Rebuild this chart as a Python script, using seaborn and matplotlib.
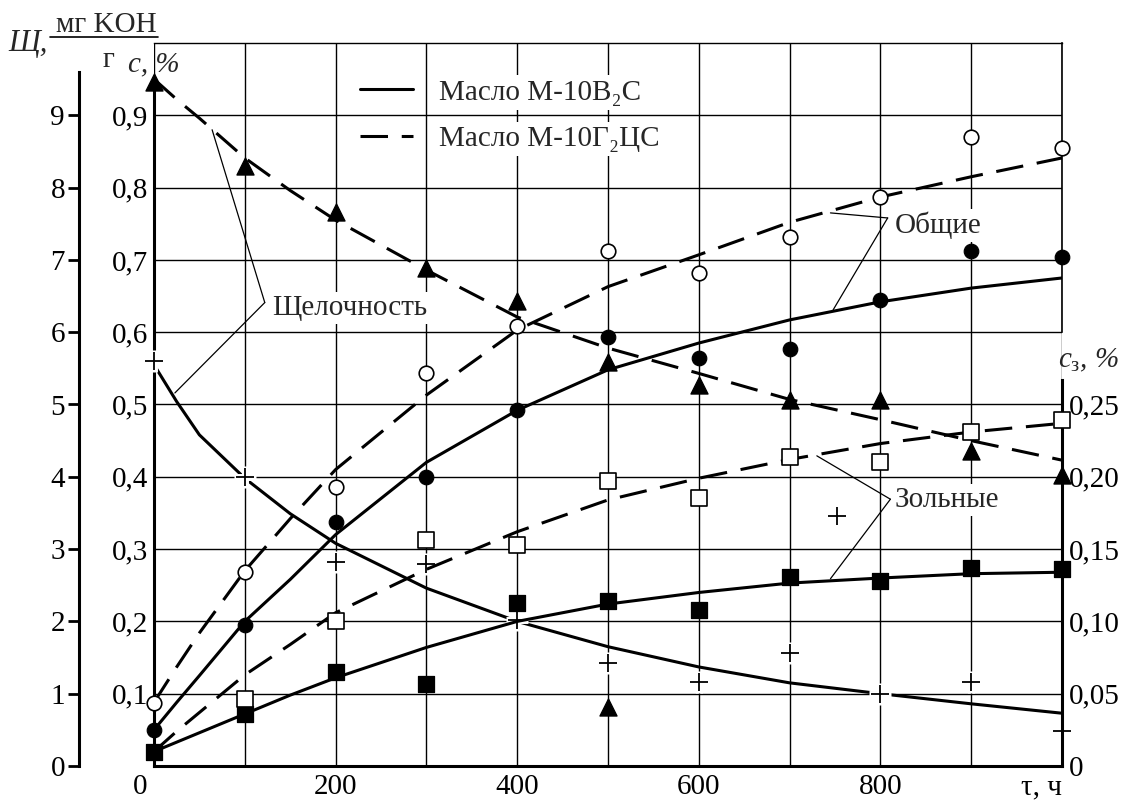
import numpy as np
import pandas as pd
import matplotlib
matplotlib.use('Agg')
import matplotlib.pyplot as plt
import matplotlib.transforms as mtransforms
from matplotlib.lines import Line2D
import seaborn as sns

# time, h
tau = [0, 100, 200, 300, 400, 500, 600, 700, 800, 900, 1000]

# alkalinity, mg KOH/g
alk_v2s = [5.6, 4.0, 2.82, 2.8, 2.02, 1.42, 1.16, 1.56, 1.0, 1.16, 0.48]
alk_g2cs = [9.46, 8.3, 7.66, 6.89, 6.43, 5.59, 5.27, 5.06, 5.06, 4.35, 4.02]
stray_plus_tau, stray_plus_val = [752], [3.46]
stray_tri_tau, stray_tri_val = [500], [0.82]

# total contaminants c, %
tot_v2s = [0.050, 0.195, 0.338, 0.40, 0.492, 0.593, 0.564, 0.577, 0.644, 0.712, 0.704]
tot_g2cs = [0.087, 0.268, 0.386, 0.544, 0.609, 0.712, 0.682, 0.732, 0.787, 0.870, 0.855]

# ash contaminants c_z, %
ash_v2s = [0.010, 0.036, 0.065, 0.057, 0.113, 0.114, 0.108, 0.131, 0.128, 0.137, 0.136]
ash_g2cs_tau = [100, 200, 300, 400, 500, 600, 700, 800, 900, 1000]
ash_g2cs = [0.046, 0.100, 0.156, 0.153, 0.197, 0.185, 0.214, 0.210, 0.231, 0.239]

# smoothed curves
tau_fit = [0, 25, 50, 100, 150, 200, 300, 400, 500, 600, 700, 800, 900, 1000]
alk_v2s_fit = [5.55, 5.04, 4.58, 3.98, 3.49, 3.08, 2.46, 2.0, 1.65, 1.37, 1.15, 1.0, 0.86, 0.73]
alk_g2cs_fit = [9.5, 9.22, 8.96, 8.41, 7.96, 7.55, 6.86, 6.21, 5.78, 5.43, 5.07, 4.79, 4.5, 4.23]
tot_v2s_fit = [0.05, 0.088, 0.125, 0.20, 0.258, 0.32, 0.42, 0.492, 0.548, 0.585, 0.617, 0.642, 0.661, 0.675]
tot_g2cs_fit = [0.088, 0.137, 0.184, 0.27, 0.342, 0.41, 0.513, 0.603, 0.663, 0.707, 0.752, 0.787, 0.815, 0.841]
ash_v2s_fit = [0.010, 0.0165, 0.023, 0.036, 0.049, 0.061, 0.082, 0.100, 0.112, 0.120, 0.1265, 0.130, 0.133, 0.134]
ash_g2cs_fit = [0.010, 0.024, 0.037, 0.063, 0.084, 0.106, 0.136, 0.162, 0.184, 0.199, 0.212, 0.223, 0.231, 0.237]

c_ticks = [0.1, 0.2, 0.3, 0.4, 0.5, 0.6, 0.7, 0.8, 0.9]
alk_ticks = [0, 1, 2, 3, 4, 5, 6, 7, 8, 9]
ash_ticks = [0, 0.05, 0.10, 0.15, 0.20, 0.25]
x_ticks = [0, 200, 400, 600, 800, 1000]
x_labels = ['0', '200', '400', '600', '800', 'τ, ч']

sns.set_theme(style='white')
plt.rcParams['font.family'] = ['Liberation Serif', 'DejaVu Serif']
plt.rcParams['mathtext.fontset'] = 'custom'
plt.rcParams['mathtext.rm'] = 'Liberation Serif'
plt.rcParams['mathtext.it'] = 'Liberation Serif:italic'
FS = 21
LW = 2.2
DASH = (0, (9, 4.5))

W, H = 1131, 805
fig = plt.figure(figsize=(W / 100, H / 100), dpi=100)
ax = fig.add_axes([154 / W, 1 - 766 / H, 908 / W, 723 / H])
ax.patch.set_alpha(0)
ax.set_xlim(0, 1000)
ax.set_ylim(0, 1.0)

# grid
ax.set_xticks(x_ticks)
ax.set_xticks(range(100, 1000, 100), minor=True)
ax.set_yticks(c_ticks)
ax.set_yticklabels([f'{v:.1f}'.replace('.', ',') for v in c_ticks], fontsize=FS)
ax.set_xticklabels(x_labels, fontsize=FS)
ax.grid(which='both', color='black', lw=1.0, zorder=0)
ax.tick_params(axis='both', which='both', length=0, colors='black')
ax.tick_params(axis='y', pad=4)
ax.tick_params(axis='x', pad=6)
xl = ax.get_xticklabels()
xl[0].set_horizontalalignment('right')
xl[0].set_transform(xl[0].get_transform() + mtransforms.ScaledTranslation(-5 / 72, 0, fig.dpi_scale_trans))
xl[-1].set_horizontalalignment('right')

for s in ax.spines.values():
    s.set_color('black')
ax.spines['left'].set_linewidth(LW)
ax.spines['left'].set_bounds(0, 0.95)
ax.spines['bottom'].set_linewidth(LW)
ax.spines['top'].set_linewidth(1.0)
ax.spines['right'].set_linewidth(1.2)
ax.spines['right'].set_bounds(0.6, 1.0)

# alkalinity axis (outer left)
ax2 = ax.twinx()
ax2.set_ylim(0, 10)
ax2.yaxis.tick_left()
for k in ['top', 'right', 'bottom']:
    ax2.spines[k].set_visible(False)
ax2.spines['left'].set_position(('outward', 54))
ax2.spines['left'].set_linewidth(LW)
ax2.spines['left'].set_color('black')
ax2.spines['left'].set_bounds(0, 9.6)
ax2.set_yticks(alk_ticks)
ax2.set_yticklabels([str(v) for v in alk_ticks], fontsize=FS)
ax2.tick_params(axis='y', length=8, width=2, pad=2, colors='black', left=True, right=False)

# ash axis (right)
ax3 = ax.twinx()
ax3.set_ylim(0, 0.5)
for k in ['top', 'left', 'bottom']:
    ax3.spines[k].set_visible(False)
ax3.spines['right'].set_linewidth(LW)
ax3.spines['right'].set_color('black')
ax3.spines['right'].set_bounds(0, 0.267)
ax3.set_yticks(ash_ticks)
ax3.set_yticklabels(['0'] + [f'{v:.2f}'.replace('.', ',') for v in ash_ticks[1:]], fontsize=FS)
ax3.tick_params(axis='y', length=0, pad=5, colors='black')

# curves
def curve(a, x, y, dashed):
    sns.lineplot(x=x, y=y, ax=a, color='black', lw=LW,
                 linestyle=DASH if dashed else '-', zorder=3)

curve(ax2, tau_fit, alk_v2s_fit, False)
curve(ax2, tau_fit, alk_g2cs_fit, True)
curve(ax, tau_fit, tot_v2s_fit, False)
curve(ax, tau_fit, tot_g2cs_fit, True)
curve(ax3, tau_fit, ash_v2s_fit, False)
curve(ax3, tau_fit, ash_g2cs_fit, True)

# markers
def plus(a, x, y):
    sns.scatterplot(x=x, y=y, ax=a, marker='+', s=260, color='white', linewidth=5, zorder=4, clip_on=False)
    sns.scatterplot(x=x, y=y, ax=a, marker='+', s=180, color='black', linewidth=1.3, zorder=5, clip_on=False)

plus(ax2, tau, alk_v2s)
plus(ax2, stray_plus_tau, stray_plus_val)
sns.scatterplot(x=tau, y=alk_g2cs, ax=ax2, marker='^', s=150, color='black', edgecolor='black', zorder=5, clip_on=False)
sns.scatterplot(x=stray_tri_tau, y=stray_tri_val, ax=ax2, marker='^', s=150, color='black', edgecolor='black', zorder=5, clip_on=False)
sns.scatterplot(x=tau, y=tot_v2s, ax=ax, marker='o', s=110, color='black', edgecolor='black', zorder=5, clip_on=False)
sns.scatterplot(x=tau, y=tot_g2cs, ax=ax, marker='o', s=110, color='white', edgecolor='black', linewidth=1.2, zorder=5, clip_on=False)
sns.scatterplot(x=tau, y=ash_v2s, ax=ax3, marker='s', s=130, color='black', edgecolor='black', zorder=5, clip_on=False)
sns.scatterplot(x=ash_g2cs_tau, y=ash_g2cs, ax=ax3, marker='s', s=130, color='white', edgecolor='black', linewidth=1.2, zorder=5, clip_on=False)

# annotations with leader lines
box = dict(facecolor='white', edgecolor='none', pad=2)
notes = [
    ('Щелочность', (130, 0.633), (122, 0.641), [(64, 0.880), (23, 0.516)]),
    ('Общие', (816, 0.748), (808, 0.758), [(745, 0.765), (748, 0.631)]),
    ('Зольные', (816, 0.368), (811, 0.369), [(730, 0.429), (745, 0.259)]),
]
for label, pos, vertex, ends in notes:
    ax.text(pos[0], pos[1], label, fontsize=FS, ha='left', va='center', bbox=box, zorder=2)
    for e in ends:
        ax.annotate('', xy=e, xytext=vertex,
                    arrowprops=dict(arrowstyle='-', lw=0.9, color='black', shrinkA=0, shrinkB=0),
                    zorder=2)

# legend
handles = [Line2D([], [], color='black', lw=LW),
           Line2D([], [], color='black', lw=LW, linestyle=DASH)]
leg = ax3.legend(handles, ['Масло М-10В₂С', 'Масло М-10Г₂ЦС'], loc='upper left',
                 bbox_to_anchor=(0.227, 0.95), borderaxespad=0, borderpad=0,
                 frameon=False, fontsize=FS, handlelength=1.8, handletextpad=0.9,
                 labelspacing=0.68)
for t in leg.get_texts():
    t.set_bbox(dict(facecolor='white', edgecolor='none', pad=3))

# axis titles
def px(x, y):
    return x / W, 1 - y / H

fig.text(*px(8, 43), 'Щ,', fontsize=FS + 1, style='italic', ha='left', va='center')
fig.text(*px(106, 32), 'мг KOH', fontsize=FS, ha='center', va='baseline')
fig.add_artist(Line2D([50 / W, 158 / W], [1 - 37 / H, 1 - 37 / H], color='black', lw=1.2))
fig.text(*px(108, 67), 'г', fontsize=FS, ha='center', va='baseline')
fig.text(*px(128, 71), 'c, %', fontsize=FS, style='italic', ha='left', va='baseline')
fig.text(*px(1058, 367), r'$c_{\mathrm{з}}$' + ', %', fontsize=FS, style='italic', ha='left', va='baseline')

fig.savefig('out.png', dpi=100)
